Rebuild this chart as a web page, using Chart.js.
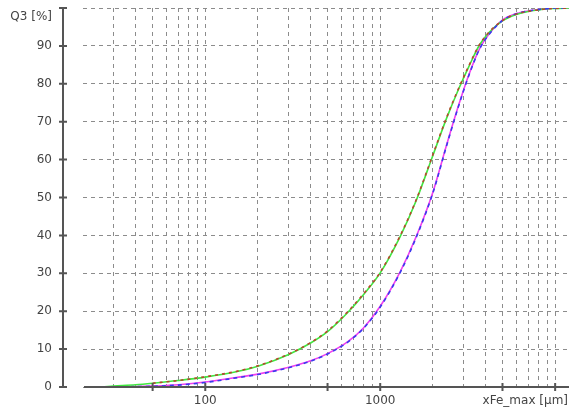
<!DOCTYPE html>
<html>
<head>
<meta charset="utf-8">
<script src="https://cdn.jsdelivr.net/npm/chart.js@4.4.1/dist/chart.umd.min.js"></script>
<style>
html, body { margin: 0; padding: 0; background: #fff; }
</style>
</head>
<body>
<canvas id="q3Chart" width="569" height="412"></canvas>
<script>
// particle size xFe_max [µm] and cumulative Q3 [%]
const sizes      = [25, 30, 40, 50, 70, 100, 150, 200, 300, 400, 500, 650, 800, 1000, 1300, 1600, 2000, 2400, 2800, 3200, 3700, 4200, 5000, 6000, 7000, 8000, 9000, 10000, 12000];
const greenQ3    = [0, 0.25, 0.6, 1.0, 1.7, 2.6, 4.0, 5.5, 8.6, 11.6, 14.6, 19.6, 24.3, 30.1, 39.7, 49.0, 61.1, 71.0, 78.5, 84.4, 90.3, 93.6, 96.6, 98.3, 99.1, 99.5, 99.8, 99.9, 100];
const redQ3      = [null, null, null, 1.0, 1.7, 2.7, 4.1, 5.6, 8.7, 11.7, 14.8, 19.8, 24.5, 30.3, 39.9, 49.2, 61.3, 71.2, 78.7, 84.6, 90.4, 93.7, 96.7, 98.4, 99.1, 99.5, 99.8, 99.9, 100];
const magentaQ3  = [null, 0, 0.1, 0.25, 0.6, 1.3, 2.5, 3.4, 5.2, 6.9, 8.8, 11.9, 15.5, 21.3, 30.4, 39.5, 51.4, 64.0, 74.2, 82.2, 89.3, 93.2, 96.8, 98.5, 99.2, 99.6, 99.8, 100, 100];
const blueQ3     = [null, 0, 0.1, 0.2, 0.5, 1.2, 2.4, 3.3, 5.1, 6.8, 8.7, 11.8, 15.4, 21.1, 30.2, 39.3, 51.2, 63.8, 74.0, 82.0, 89.2, 93.1, 96.7, 98.5, 99.2, 99.6, 99.8, 100, 100];

// axis ticks
const xGridValues = [30, 40, 50, 60, 70, 80, 90, 100, 200, 300, 400, 500, 600, 700, 800, 900, 1000, 2000, 3000, 4000, 5000, 6000, 7000, 8000, 9000, 10000];
const xLabelValues = [100, 1000];
const xMarkValues = [50, 100, 500, 1000, 5000, 10000];
const yTickValues = [0, 10, 20, 30, 40, 50, 60, 70, 80, 90, 100];
const yTopLabel = 'Q3 [%]';
const xTitle = 'xFe_max [µm]';

const toPoints = (vals) => sizes.map((s, i) => ({ x: s, y: vals[i] }));

const FONT = '"DejaVu Sans", sans-serif';

// axis lines sit apart from the plot, like the original software draws them
const axisLines = {
    id: 'axisLines',
    afterDatasetsDraw(chart) {
        const { ctx, chartArea, scales: { x, y } } = chart;
        const axX = chartArea.left - 20;
        const y0 = y.getPixelForValue(0);
        const yTop = y.getPixelForValue(100);
        ctx.save();
        ctx.strokeStyle = '#555';
        ctx.lineWidth = 2;
        ctx.beginPath();
        ctx.moveTo(axX, yTop - 1);
        ctx.lineTo(axX, y0 + 1);
        yTickValues.forEach(v => {
            const py = y.getPixelForValue(v);
            ctx.moveTo(axX - 4, py); ctx.lineTo(axX + 4, py);
        });
        ctx.moveTo(chartArea.left + 1, y0);
        ctx.lineTo(chartArea.right, y0);
        xMarkValues.forEach(v => {
            const px = x.getPixelForValue(v);
            ctx.moveTo(px, y0 - 4); ctx.lineTo(px, y0 + 4);
        });
        ctx.stroke();
        ctx.font = '12px ' + FONT;
        ctx.fillStyle = '#444';
        ctx.textBaseline = 'middle';
        ctx.textAlign = 'right';
        ctx.fillText(xTitle, chartArea.right - 1, y0 + 14);
        ctx.fillText(yTopLabel, axX - 11, yTop + 9);
        ctx.restore();
    }
};

const line = (data, color, dash) => ({
    data: toPoints(data),
    borderColor: color,
    borderWidth: 1.6,
    borderDash: dash || [],
    pointRadius: 0,
    fill: false,
    cubicInterpolationMode: 'monotone',
    spanGaps: false
});

new Chart(document.getElementById('q3Chart'), {
    type: 'line',
    data: {
        datasets: [
            line(redQ3, '#b8452e', [3, 4]),
            line(blueQ3, '#3a3aee', [4, 4]),
            line(greenQ3, '#3fe83f'),
            line(magentaQ3, '#f040f0')
        ]
    },
    options: {
        responsive: false,
        animation: false,
        layout: { padding: { top: 8, right: 0, left: 0, bottom: 0 } },
        plugins: { legend: { display: false }, tooltip: { enabled: false } },
        scales: {
            x: {
                type: 'logarithmic',
                min: 20, max: 12000,
                afterFit: s => { s.height = 25; },
                afterBuildTicks: s => { s.ticks = xGridValues.map(v => ({ value: v })); },
                border: { display: false, dash: [4, 4] },
                grid: { color: '#8c8c8c', lineWidth: 1, drawTicks: true, tickLength: 7, tickColor: 'rgba(0,0,0,0)' },
                ticks: {
                    autoSkip: false, maxRotation: 0, padding: 0,
                    color: '#444', font: { family: FONT, size: 12 },
                    callback: v => xLabelValues.includes(v) ? String(v) : ''
                }
            },
            y: {
                min: 0, max: 100,
                afterFit: s => { s.width = 83; },
                afterBuildTicks: s => { s.ticks = yTickValues.map(v => ({ value: v })); },
                border: { display: false, dash: [4, 4] },
                grid: { color: '#8c8c8c', lineWidth: 1, drawTicks: true, tickLength: 31, tickColor: 'rgba(0,0,0,0)' },
                ticks: {
                    padding: 0,
                    color: '#444', font: { family: FONT, size: 12 },
                    callback: v => v === 100 ? '' : String(v)
                }
            }
        }
    },
    plugins: [axisLines]
});
</script>
</body>
</html>
